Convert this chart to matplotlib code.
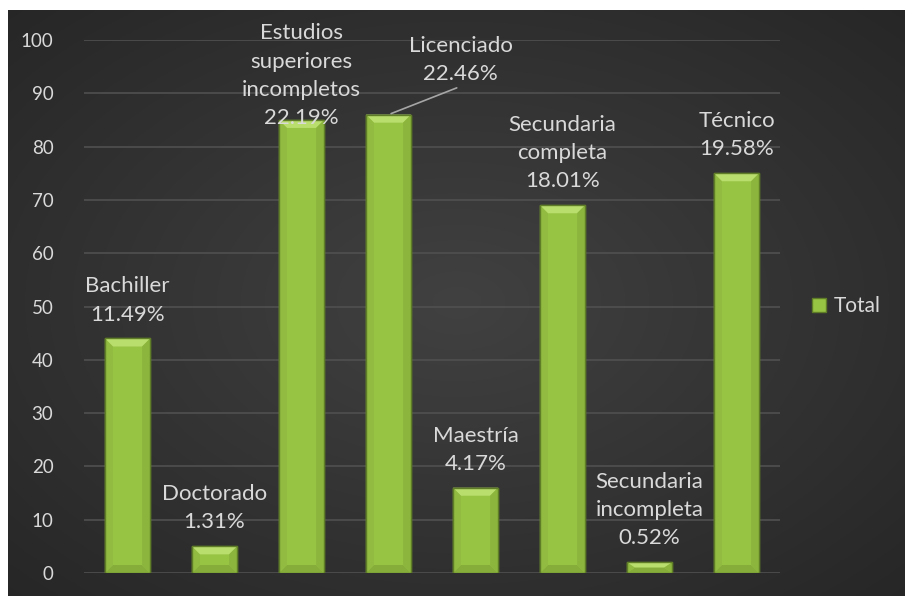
import numpy as np
import matplotlib
matplotlib.use("Agg")
import matplotlib.pyplot as plt
from matplotlib.patches import Polygon
from matplotlib.lines import Line2D

# Nivel educativo: conteo y porcentaje
categorias = ["Bachiller", "Doctorado", "Estudios\nsuperiores\nincompletos", "Licenciado",
              "Maestría", "Secundaria\ncompleta", "Secundaria\nincompleta", "Técnico"]
conteos = [44, 5, 85, 86, 16, 69, 2, 75]
porcentajes = ["11.49%", "1.31%", "22.19%", "22.46%", "4.17%", "18.01%", "0.52%", "19.58%"]
yticks = [0, 10, 20, 30, 40, 50, 60, 70, 80, 90, 100]

plt.rcParams['font.family'] = ['Lato', 'DejaVu Sans']
texto = '#d9d9d9'
fs_lbl = 16

fig = plt.figure(figsize=(9.05, 5.96), dpi=100)
fig.patch.set_facecolor('white')

# dark panel with a soft radial gradient
bg = fig.add_axes([8 / 905, 0, 1 - 8 / 905, 1 - 10 / 596], zorder=-10)
yy, xx = np.mgrid[0:1:300j, 0:1:450j]
r = np.sqrt(((xx - 0.5) / 0.75) ** 2 + ((yy - 0.5) / 0.75) ** 2)
g = np.clip(0.255 - 0.11 * r, 0, 1)
bg.imshow(np.dstack([g, g, g]), aspect='auto', extent=[0, 1, 0, 1], interpolation='bicubic')
bg.axis('off')

ax = fig.add_axes([84 / 905, 1 - 573 / 596, 696 / 905, 533 / 596])
ax.set_facecolor('none')
x = np.arange(len(categorias))
bars = ax.bar(x, conteos, width=0.52, color='#98c444', edgecolor='#5f7d27', linewidth=1.0, zorder=3)

# bevel facets on each bar
dx_px, dy_px = 8, 8
ux = 696 / len(categorias)   # pixels per category
uy = 533 / 100               # pixels per unit
for b in bars:
    x0, w, h = b.get_x(), b.get_width(), b.get_height()
    x1 = x0 + w
    bx = dx_px / ux
    by = min(dy_px / uy, h / 2)
    top = [(x0, h), (x1, h), (x1 - bx, h - by), (x0 + bx, h - by)]
    bot = [(x0, 0), (x1, 0), (x1 - bx, by), (x0 + bx, by)]
    left = [(x0, 0), (x0, h), (x0 + bx, h - by), (x0 + bx, by)]
    right = [(x1, 0), (x1, h), (x1 - bx, h - by), (x1 - bx, by)]
    for pts, c in [(top, '#bade6e'), (bot, '#86ad3a'), (left, '#91bc41'), (right, '#8bb53d')]:
        ax.add_patch(Polygon(pts, closed=True, facecolor=c, edgecolor='none', zorder=4))
    ax.add_patch(Polygon([(x0, 0), (x0, h), (x1, h), (x1, 0)], closed=True,
                         facecolor='none', edgecolor='#5f7d27', linewidth=1.0, zorder=5))

# data labels: category name + percentage
lbl = dict(ha='center', va='bottom', color=texto, fontsize=fs_lbl, linespacing=1.52, zorder=6)
for i, (cat, pct, v) in enumerate(zip(categorias, porcentajes, conteos)):
    label = cat + "\n" + pct
    if i == 2:
        ax.annotate(label, (i, v), xytext=(0, -6), textcoords='offset points', **lbl)
    elif i == 3:
        ax.annotate(label, (i, v), xytext=(52, 22), textcoords='offset points', **lbl)
        ax.annotate("", (i, v), xytext=(51, 20), textcoords='offset points',
                    arrowprops=dict(arrowstyle='-', color='#a6a6a6', lw=1.2), zorder=6)
    else:
        ax.annotate(label, (i, v), xytext=(0, 10), textcoords='offset points', **lbl)

ax.set_xlim(-0.5, len(categorias) - 0.5)
ax.set_ylim(0, 100)
ax.set_yticks(yticks)
ax.set_xticks([])
ax.tick_params(axis='y', length=0, pad=22, labelsize=13.5, labelcolor=texto)
ax.grid(axis='y', color='#505050', linewidth=1.2, zorder=0)
for s in ax.spines.values():
    s.set_visible(False)

handle = Line2D([], [], marker='s', linestyle='none', markersize=10,
                markerfacecolor='#98c444', markeredgecolor='#5f7d27')
fig.legend([handle], ["Total"], loc='center left', bbox_to_anchor=(790 / 905, 1 - 306 / 596),
           frameon=False, fontsize=15, labelcolor=texto, handletextpad=0.2, handlelength=1.0)

fig.savefig("out.png", dpi=100)
